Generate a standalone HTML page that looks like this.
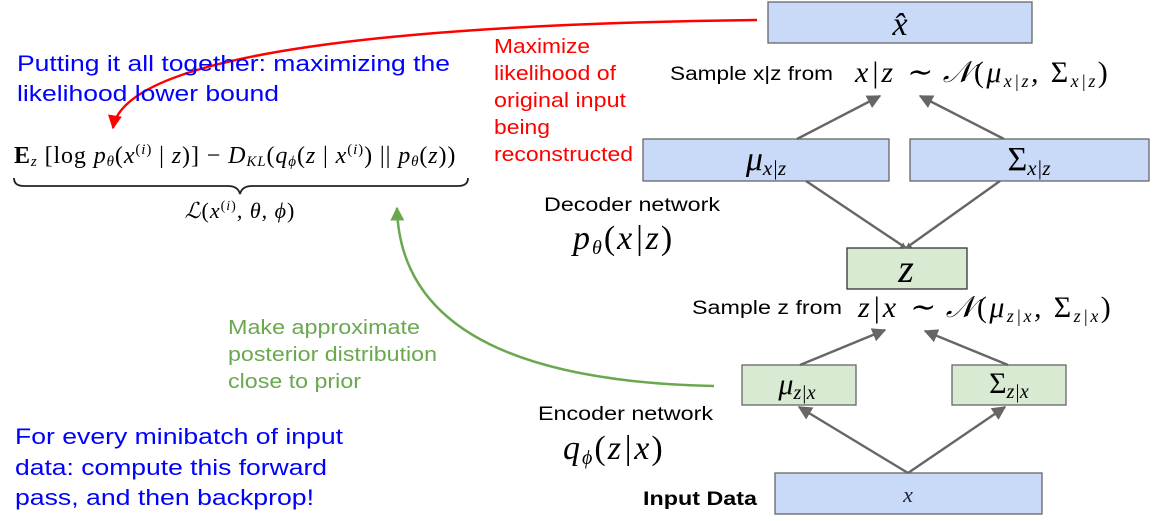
<!DOCTYPE html>
<html><head><meta charset="utf-8"><style>
html,body{margin:0;padding:0;background:#fff;}
svg{display:block;}
.s{font-family:"Liberation Sans",sans-serif;}
.m{font-family:"Liberation Serif",serif;font-style:italic;}
.r{font-family:"Liberation Serif",serif;}
</style></head><body>
<svg width="1167" height="521" viewBox="0 0 1167 521" xmlns="http://www.w3.org/2000/svg">
<defs>
<marker id="ag" viewBox="0 0 10 10" refX="9" refY="5" markerWidth="6" markerHeight="6" markerUnits="userSpaceOnUse" orient="auto"><path d="M0,0 L10,5 L0,10 z" fill="#666"/></marker>
<marker id="ag2" viewBox="0 0 10 10" refX="9" refY="5" markerWidth="14" markerHeight="14" markerUnits="userSpaceOnUse" orient="auto"><path d="M0,0 L10,5 L0,10 z" fill="#666"/></marker>
<marker id="ar" viewBox="0 0 10 10" refX="9" refY="5" markerWidth="14" markerHeight="14" markerUnits="userSpaceOnUse" orient="auto"><path d="M0,0 L10,5 L0,10 z" fill="#f00"/></marker>
<marker id="agr" viewBox="0 0 10 10" refX="9" refY="5" markerWidth="14" markerHeight="14" markerUnits="userSpaceOnUse" orient="auto"><path d="M0,0 L10,5 L0,10 z" fill="#6aa84f"/></marker>
</defs>

<rect x="768" y="2" width="264" height="41" fill="#c9daf8" stroke="#666" stroke-width="1.3"/>
<rect x="643" y="139" width="246" height="42" fill="#c9daf8" stroke="#666" stroke-width="1.3"/>
<rect x="910" y="139" width="239" height="42" fill="#c9daf8" stroke="#666" stroke-width="1.3"/>
<rect x="847" y="248" width="120" height="41" fill="#d9ead3" stroke="#333" stroke-width="1.3"/>
<rect x="742" y="365" width="114" height="40" fill="#d9ead3" stroke="#666" stroke-width="1.3"/>
<rect x="952" y="365" width="114" height="40" fill="#d9ead3" stroke="#666" stroke-width="1.3"/>
<rect x="775" y="473" width="267" height="41" fill="#c9daf8" stroke="#666" stroke-width="1.3"/>

<text x="900" y="35" class="m" font-size="34" text-anchor="middle">x̂</text>
<text x="766" y="170" class="m" font-size="34" text-anchor="middle">μ<tspan font-size="21" dy="5">x|z</tspan></text>
<text x="1029" y="170" class="r" font-size="34" text-anchor="middle">Σ<tspan class="m" font-size="21" dy="5">x|z</tspan></text>
<text x="906" y="282" class="m" font-size="40" text-anchor="middle">z</text>
<text x="797" y="394" class="m" font-size="30" text-anchor="middle">μ<tspan font-size="20" dy="5">z|x</tspan></text>
<text x="1009" y="393" class="r" font-size="30" text-anchor="middle">Σ<tspan class="m" font-size="20" dy="5">z|x</tspan></text>
<text x="908" y="502" class="m" font-size="22" text-anchor="middle" fill="#223">x</text>

<g stroke="#666" stroke-width="2.4" fill="none">
<line x1="797" y1="139" x2="880" y2="96" marker-end="url(#ag2)"/>
<line x1="1004" y1="139" x2="920" y2="96" marker-end="url(#ag2)"/>
<line x1="806" y1="181" x2="906" y2="248" marker-end="url(#ag)"/>
<line x1="1000" y1="181" x2="906" y2="248" marker-end="url(#ag)"/>
<line x1="800" y1="365" x2="885" y2="330" marker-end="url(#ag2)"/>
<line x1="1008" y1="365" x2="925" y2="331" marker-end="url(#ag2)"/>
<line x1="908" y1="473" x2="799" y2="407" marker-end="url(#ag2)"/>
<line x1="908" y1="473" x2="1005" y2="407" marker-end="url(#ag2)"/>
</g>

<path d="M757,20 C420,24 125,50 113,128" stroke="#f00" stroke-width="2.5" fill="none" marker-end="url(#ar)"/>
<path d="M714,386 C520,382 400,330 397,208" stroke="#6aa84f" stroke-width="2.5" fill="none" marker-end="url(#agr)"/>

<text x="17" y="71" class="s" font-size="22" fill="#00f" textLength="433" lengthAdjust="spacingAndGlyphs">Putting it all together: maximizing the</text>
<text x="17" y="101" class="s" font-size="22" fill="#00f" textLength="262" lengthAdjust="spacingAndGlyphs">likelihood lower bound</text>

<g class="s" font-size="20" fill="#f00">
<text x="494" y="53" textLength="96" lengthAdjust="spacingAndGlyphs">Maximize</text>
<text x="494" y="80" textLength="122" lengthAdjust="spacingAndGlyphs">likelihood of</text>
<text x="494" y="107" textLength="132" lengthAdjust="spacingAndGlyphs">original input</text>
<text x="494" y="134" textLength="56" lengthAdjust="spacingAndGlyphs">being</text>
<text x="494" y="161" textLength="139" lengthAdjust="spacingAndGlyphs">reconstructed</text>
</g>

<text x="670" y="80" class="s" font-size="19" textLength="163" lengthAdjust="spacingAndGlyphs">Sample x|z from</text>
<text x="855" y="82" class="m" font-size="30" letter-spacing="2.4">x|z ∼ 𝒩<tspan font-style="normal">(</tspan>μ<tspan font-size="18" dy="5">x|z</tspan><tspan dy="-5">, </tspan><tspan class="r" font-style="normal">Σ</tspan><tspan font-size="18" dy="5">x|z</tspan><tspan dy="-5" font-style="normal">)</tspan></text>

<text x="544" y="211" class="s" font-size="19" textLength="176" lengthAdjust="spacingAndGlyphs">Decoder network</text>
<text x="573" y="249" class="m" font-size="34" letter-spacing="2">p<tspan font-size="20" dy="5">θ</tspan><tspan dy="-5" font-style="normal">(</tspan>x|z<tspan font-style="normal">)</tspan></text>

<text x="692" y="314" class="s" font-size="19" textLength="150" lengthAdjust="spacingAndGlyphs">Sample z from</text>
<text x="858" y="317" class="m" font-size="30" letter-spacing="2.4">z|x ∼ 𝒩<tspan font-style="normal">(</tspan>μ<tspan font-size="18" dy="5">z|x</tspan><tspan dy="-5">, </tspan><tspan class="r" font-style="normal">Σ</tspan><tspan font-size="18" dy="5">z|x</tspan><tspan dy="-5" font-style="normal">)</tspan></text>

<g class="s" font-size="20" fill="#6aa84f">
<text x="228" y="334" textLength="192" lengthAdjust="spacingAndGlyphs">Make approximate</text>
<text x="228" y="361" textLength="209" lengthAdjust="spacingAndGlyphs">posterior distribution</text>
<text x="228" y="388" textLength="133" lengthAdjust="spacingAndGlyphs">close to prior</text>
</g>

<text x="538" y="420" class="s" font-size="19" textLength="175" lengthAdjust="spacingAndGlyphs">Encoder network</text>
<text x="563" y="459" class="m" font-size="34" letter-spacing="2">q<tspan font-size="20" dy="5">ϕ</tspan><tspan dy="-5" font-style="normal">(</tspan>z|x<tspan font-style="normal">)</tspan></text>

<g class="s" font-size="22" fill="#00f">
<text x="15" y="444" textLength="328" lengthAdjust="spacingAndGlyphs">For every minibatch of input</text>
<text x="15" y="475" textLength="312" lengthAdjust="spacingAndGlyphs">data: compute this forward</text>
<text x="15" y="505" textLength="299" lengthAdjust="spacingAndGlyphs">pass, and then backprop!</text>
</g>
<text x="643" y="505" class="s" font-size="19" font-weight="bold" textLength="114" lengthAdjust="spacingAndGlyphs">Input Data</text>

<text x="14" y="163" class="r" font-size="24" letter-spacing="0.9"><tspan font-weight="bold">E</tspan><tspan class="m" font-size="15" dy="3">z</tspan><tspan dy="-3"> [log </tspan><tspan class="m">p</tspan><tspan class="m" font-size="15" dy="3">θ</tspan><tspan dy="-3">(</tspan><tspan class="m">x</tspan><tspan font-size="15" dy="-9">(<tspan class="m">i</tspan>)</tspan><tspan dy="9"> | </tspan><tspan class="m">z</tspan>)] − <tspan class="m">D</tspan><tspan class="m" font-size="15" dy="3">KL</tspan><tspan dy="-3">(</tspan><tspan class="m">q</tspan><tspan class="m" font-size="15" dy="3">ϕ</tspan><tspan dy="-3">(</tspan><tspan class="m">z</tspan> | <tspan class="m">x</tspan><tspan font-size="15" dy="-9">(<tspan class="m">i</tspan>)</tspan><tspan dy="9">) || </tspan><tspan class="m">p</tspan><tspan class="m" font-size="15" dy="3">θ</tspan><tspan dy="-3">(</tspan><tspan class="m">z</tspan>))</text>
<path d="M14,178 Q14,186 24,186 L228,186 Q238,186 240,194 Q242,186 252,186 L458,186 Q468,186 468,178" stroke="#222" stroke-width="1.8" fill="none"/>
<text x="240" y="218" class="r" font-size="22" text-anchor="middle" letter-spacing="1"><tspan class="m">ℒ</tspan>(<tspan class="m">x</tspan><tspan font-size="14" dy="-8">(<tspan class="m">i</tspan>)</tspan><tspan dy="8">, </tspan><tspan class="m">θ</tspan>, <tspan class="m">ϕ</tspan>)</text>
</svg>
</body></html>
